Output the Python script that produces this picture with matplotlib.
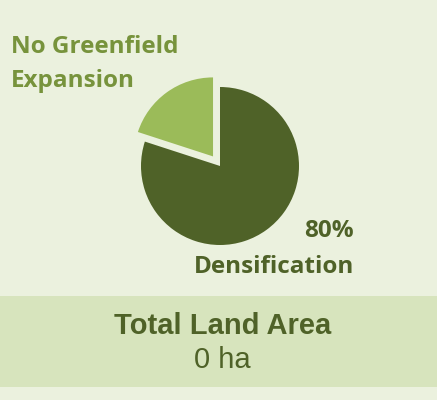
import matplotlib.pyplot as plt
from matplotlib.patches import Rectangle

labels = ["Densification", "No Greenfield Expansion"]
shares = [80, 20]
colors = ["#4f6228", "#9bbb59"]
explode = [0, 0.15]
total_area_ha = 0

W, H = 437, 400
fig = plt.figure(figsize=(W / 100, H / 100), dpi=100)
fig.patch.set_facecolor("#ebf1de")

# summary band
bg = fig.add_axes([0, 0, 1, 1])
bg.set_xlim(0, W)
bg.set_ylim(H, 0)
bg.axis("off")
bg.add_patch(Rectangle((0, 296), W, 91, facecolor="#d7e4bd", edgecolor="none"))

# pie
cx, cy, r = 220, 166, 79
ax = fig.add_axes([(cx - r) / W, 1 - (cy + r) / H, 2 * r / W, 2 * r / H])
ax.pie(shares, colors=colors, explode=explode, startangle=90,
       counterclock=False, radius=1.0,
       wedgeprops=dict(linewidth=0))
ax.set_xlim(-1, 1)
ax.set_ylim(-1, 1)
ax.set_aspect("auto")
ax.axis("off")

lbl_font = "Open Sans"
lbl_size = 17.5
bg.text(11, 47, "No Greenfield", fontsize=lbl_size, fontweight="bold",
        family=lbl_font, color="#77933c", ha="left", va="center")
bg.text(11, 81, "Expansion", fontsize=lbl_size, fontweight="bold",
        family=lbl_font, color="#77933c", ha="left", va="center")
bg.text(354, 231, f"{shares[0]}%", fontsize=lbl_size, fontweight="bold",
        family=lbl_font, color="#4f6228", ha="right", va="center")
bg.text(354, 267, labels[0], fontsize=lbl_size, fontweight="bold",
        family=lbl_font, color="#4f6228", ha="right", va="center")

bg.text(W / 2 + 4, 326, "Total Land Area", fontsize=21, fontweight="bold",
        family="Liberation Sans", color="#4f6228", ha="center", va="center")
bg.text(W / 2 + 4, 360, f"{total_area_ha} ha", fontsize=21,
        family="Liberation Sans", color="#4f6228", ha="center", va="center")

fig.savefig("out.png", dpi=100, facecolor=fig.get_facecolor())
